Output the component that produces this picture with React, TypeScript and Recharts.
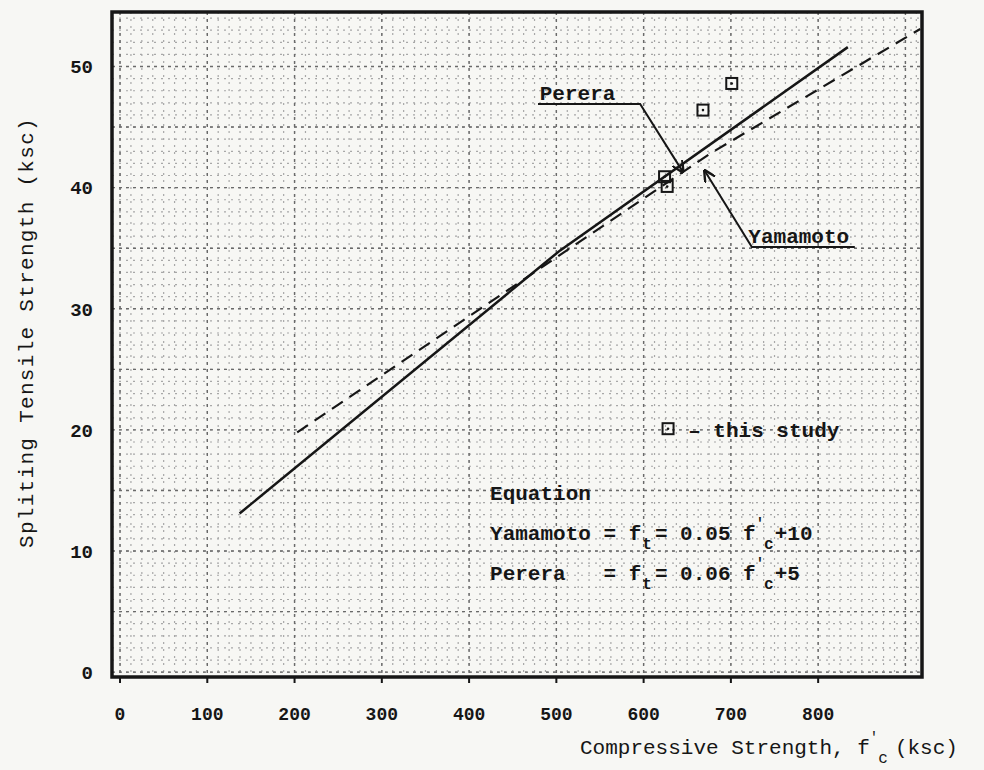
import React from "react";
import {
  CartesianGrid,
  ComposedChart,
  Line,
  ReferenceArea,
  ReferenceDot,
  Scatter,
  XAxis,
  YAxis,
} from "recharts";

const X_TICKS = [0, 100, 200, 300, 400, 500, 600, 700, 800];
const Y_TICKS = [0, 10, 20, 30, 40, 50];
const X_DOMAIN: [number, number] = [-9.2, 919];
const Y_DOMAIN: [number, number] = [-0.4, 54.5];

// Perera, ft = 0.06 f'c + 5 (solid line)
const PERERA = [
  { fc: 137, ft: 13.1 },
  { fc: 504, ft: 34.8 },
  { fc: 834, ft: 51.6 },
];
// Yamamoto, ft = 0.05 f'c + 10 (dashed line)
const YAMAMOTO = [
  { fc: 203, ft: 19.8 },
  { fc: 676, ft: 42.8 },
  { fc: 917, ft: 53.1 },
];
// squares, "this study"
const THIS_STUDY = [
  { fc: 624, ft: 40.9 },
  { fc: 627, ft: 40.1 },
  { fc: 668, ft: 46.4 },
  { fc: 701, ft: 48.6 },
];

// leader lines of the two name tags
const PERERA_LEADER = [
  { fc: 479, ft: 46.9 },
  { fc: 596, ft: 46.9 },
  { fc: 645, ft: 41.3 },
];
const YAMAMOTO_LEADER = [
  { fc: 842, ft: 35.1 },
  { fc: 724, ft: 35.1 },
  { fc: 670, ft: 41.4 },
];

const TAGS = [
  { fc: 481, ft: 47.2, text: "Perera" },
  { fc: 720, ft: 35.4, text: "Yamamoto" },
  { fc: 424, ft: 14.2, text: "Equation" },
  { fc: 651, ft: 19.4, text: "\u2013 this study" },
];
const LEGEND_MARK = { fc: 628, ft: 20.1 };

const EQUATIONS = [
  { fc: 424, ft: 10.9, name: "Yamamoto", coef: "0.05", add: "+10" },
  { fc: 424, ft: 7.6, name: "Perera  ", coef: "0.06", add: "+5" },
];

const GRID_X = Array.from({ length: 74 }, (_, i) => i * 12.5);
const GRID_Y = Array.from({ length: 55 }, (_, i) => i);
const MAJOR_X = [0, 100, 200, 300, 400, 500, 600, 700, 800, 900];
const MAJOR_Y = [0, 5, 10, 15, 20, 25, 30, 35, 40, 45, 50];

const FONT = "'Liberation Mono', 'DejaVu Sans Mono', monospace";
const INK = "#161616";

function axisPx(axis: any, v: number, lo: number, span: number, domain: [number, number], flip: boolean) {
  if (axis && typeof axis.scale === "function") return axis.scale(v);
  const t = (v - domain[0]) / (domain[1] - domain[0]);
  return flip ? lo + span * (1 - t) : lo + span * t;
}

function Square(props: any) {
  const { cx, cy } = props;
  if (cx == null || cy == null) return null;
  return (
    <g>
      <rect x={cx - 5.5} y={cy - 5.5} width={11} height={11} fill="none" stroke={INK} strokeWidth={2} />
      <circle cx={cx} cy={cy} r={1.3} fill={INK} />
    </g>
  );
}

function Tag(text: string) {
  return (p: any) => (
    <text x={p.cx} y={p.cy} fontFamily={FONT} fontSize={21} fontWeight={700} fill={INK}>
      {text}
    </text>
  );
}

function Equation(name: string, coef: string, add: string) {
  return (p: any) => (
    <text x={p.cx} y={p.cy} fontFamily={FONT} fontSize={21} fontWeight={700} fill={INK} xmlSpace="preserve">
      <tspan>{`${name} = f`}</tspan>
      <tspan dx={1} dy={9} fontSize={16}>t</tspan>
      <tspan dx={3} dy={-9}>{`= ${coef} f`}</tspan>
      <tspan dx={0} dy={-12} fontSize={14}>{"\u2032"}</tspan>
      <tspan dx={0} dy={21} fontSize={16}>c</tspan>
      <tspan dx={1} dy={-9}>{add}</tspan>
    </text>
  );
}

function YTitle(props: any) {
  const vb = props.viewBox;
  const x = vb.x + 15;
  const y = vb.y + vb.height / 2 - 12;
  return (
    <text
      x={x}
      y={y}
      transform={`rotate(-90 ${x} ${y})`}
      textAnchor="middle"
      dominantBaseline="central"
      fontFamily={FONT}
      fontSize={21}
      letterSpacing={1.3}
      fill={INK}
    >
      Spliting Tensile Strength (ksc)
    </text>
  );
}

function XTitle(props: any) {
  const vb = props.viewBox;
  return (
    <text x={vb.x + 468} y={vb.y + 77} fontFamily={FONT} fontSize={21} fill={INK} xmlSpace="preserve">
      <tspan>Compressive Strength, f</tspan>
      <tspan dx={0} dy={-12} fontSize={14}>{"\u2032"}</tspan>
      <tspan dx={0} dy={21} fontSize={16}>c</tspan>
      <tspan dx={7} dy={-9}>(ksc)</tspan>
    </text>
  );
}

export default function App() {
  const tick = { fontFamily: FONT, fontSize: 18, fontWeight: 700, fill: INK };
  return (
    <div style={{ width: 984, height: 770, background: "#f7f7f4" }}>
      <style>{"body{margin:0}"}</style>
      <svg width={0} height={0} style={{ position: "absolute" }}>
        <defs>
          <marker
            id="arrowhead"
            viewBox="0 0 10 10"
            refX="9"
            refY="5"
            markerWidth="6"
            markerHeight="6"
            orient="auto"
          >
            <path d="M0,0 L10,5 L0,10" fill="none" stroke={INK} strokeWidth={2} />
          </marker>
        </defs>
      </svg>
      <ComposedChart width={984} height={770} margin={{ top: 12, right: 62, bottom: 13, left: 12 }}>
        <CartesianGrid
          stroke="#a8a8a8"
          strokeDasharray="2 5"
          strokeWidth={1.2}
          verticalCoordinatesGenerator={({ xAxis, offset }: any) =>
            GRID_X.map((v) => axisPx(xAxis, v, offset.left, offset.width, X_DOMAIN, false))
          }
          horizontalCoordinatesGenerator={({ yAxis, offset }: any) =>
            GRID_Y.map((v) => axisPx(yAxis, v, offset.top, offset.height, Y_DOMAIN, true))
          }
        />
        <CartesianGrid
          stroke="#6a6a6a"
          strokeDasharray="3 4"
          strokeWidth={1.4}
          verticalCoordinatesGenerator={({ xAxis, offset }: any) =>
            MAJOR_X.map((v) => axisPx(xAxis, v, offset.left, offset.width, X_DOMAIN, false))
          }
          horizontalCoordinatesGenerator={({ yAxis, offset }: any) =>
            MAJOR_Y.map((v) => axisPx(yAxis, v, offset.top, offset.height, Y_DOMAIN, true))
          }
        />
        <XAxis
          type="number"
          dataKey="fc"
          domain={X_DOMAIN}
          ticks={X_TICKS}
          allowDataOverflow
          height={80}
          tickSize={6}
          tickMargin={24}
          tick={tick}
          axisLine={false}
          tickLine={{ stroke: INK, strokeWidth: 2 }}
          label={<XTitle />}
        />
        <YAxis
          type="number"
          dataKey="ft"
          domain={Y_DOMAIN}
          ticks={Y_TICKS}
          allowDataOverflow
          width={100}
          tickSize={0}
          tickMargin={19}
          tick={{ ...tick, fontSize: 19 }}
          axisLine={false}
          tickLine={false}
          label={<YTitle />}
        />
        <ReferenceArea
          x1={X_DOMAIN[0]}
          x2={X_DOMAIN[1]}
          y1={Y_DOMAIN[0]}
          y2={Y_DOMAIN[1]}
          fill="none"
          stroke={INK}
          strokeWidth={3.5}
          ifOverflow="visible"
        />
        <Line
          data={PERERA}
          dataKey="ft"
          type="linear"
          stroke={INK}
          strokeWidth={2.5}
          dot={false}
          isAnimationActive={false}
        />
        <Line
          data={YAMAMOTO}
          dataKey="ft"
          type="linear"
          stroke={INK}
          strokeWidth={2.2}
          strokeDasharray="13 8"
          dot={false}
          isAnimationActive={false}
        />
        <Line
          data={PERERA_LEADER}
          dataKey="ft"
          type="linear"
          stroke={INK}
          strokeWidth={2}
          dot={false}
          markerEnd="url(#arrowhead)"
          isAnimationActive={false}
        />
        <Line
          data={YAMAMOTO_LEADER}
          dataKey="ft"
          type="linear"
          stroke={INK}
          strokeWidth={2}
          dot={false}
          markerEnd="url(#arrowhead)"
          isAnimationActive={false}
        />
        <Scatter data={THIS_STUDY} dataKey="ft" shape={<Square />} isAnimationActive={false} />
        <ReferenceDot x={LEGEND_MARK.fc} y={LEGEND_MARK.ft} r={0} shape={<Square />} />
        {TAGS.map((t) => (
          <ReferenceDot key={t.text} x={t.fc} y={t.ft} r={0} shape={Tag(t.text)} />
        ))}
        {EQUATIONS.map((e) => (
          <ReferenceDot key={e.name} x={e.fc} y={e.ft} r={0} shape={Equation(e.name, e.coef, e.add)} />
        ))}
      </ComposedChart>
    </div>
  );
}
